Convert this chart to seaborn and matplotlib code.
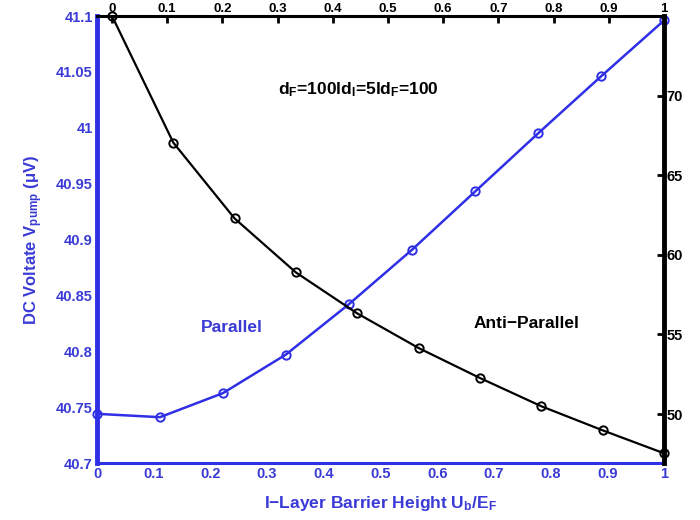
import matplotlib
matplotlib.use("Agg")
import matplotlib.pyplot as plt
import seaborn as sns
import numpy as np
import pandas as pd

# Data
barrier = [0, 0.111, 0.222, 0.333, 0.444, 0.556, 0.667, 0.778, 0.889, 1.0]
parallel_v = [40.744, 40.741, 40.7625, 40.797, 40.842, 40.891, 40.943, 40.995, 41.046, 41.096]
antiparallel_v = [75.0, 67.05, 62.29, 58.9, 56.33, 54.14, 52.26, 50.49, 48.98, 47.54]
left_ticks = [40.7, 40.75, 40.8, 40.85, 40.9, 40.95, 41, 41.05, 41.1]
left_ticklabels = ["40.7", "40.75", "40.8", "40.85", "40.9", "40.95", "41", "41.05", "41.1"]
right_ticks = [50, 55, 60, 65, 70]
x_ticks = [0, 0.1, 0.2, 0.3, 0.4, 0.5, 0.6, 0.7, 0.8, 0.9, 1]
x_ticklabels = ["0", "0.1", "0.2", "0.3", "0.4", "0.5", "0.6", "0.7", "0.8", "0.9", "1"]

sns.set_theme(style="white")
plt.rcParams['font.family'] = ['Liberation Sans', 'DejaVu Sans']
plt.rcParams['font.weight'] = 'bold'
plt.rcParams['mathtext.fontset'] = 'custom'
plt.rcParams['mathtext.rm'] = 'Liberation Sans:bold'
plt.rcParams['mathtext.it'] = 'Liberation Sans:bold'
plt.rcParams['mathtext.bf'] = 'Liberation Sans:bold'
plt.rcParams['mathtext.default'] = 'rm'

BLUE = "#2f2fe6"
BLUE_TXT = "#3a3ad6"

fig = plt.figure(figsize=(7.0, 5.2), dpi=100)
ax = fig.add_axes([97/700, 1 - 463/520, (664-97)/700, (463-16)/520])
ax2 = fig.add_axes(ax.get_position(), frameon=True)
ax2.patch.set_visible(False)

df_p = pd.DataFrame({"x": barrier, "y": parallel_v})
df_a = pd.DataFrame({"x": barrier, "y": antiparallel_v})

sns.lineplot(data=df_p, x="x", y="y", ax=ax, color=BLUE, linewidth=1.8,
             marker="o", markersize=6, markerfacecolor="none",
             markeredgecolor=BLUE, markeredgewidth=1.4, clip_on=False)
sns.lineplot(data=df_a, x="x", y="y", ax=ax2, color="black", linewidth=1.6,
             marker="o", markersize=6, markerfacecolor="none",
             markeredgecolor="black", markeredgewidth=1.4, clip_on=False)

# Bottom/left axis
ax.set_xlim(0, 1)
ax.set_ylim(40.7, 41.1)
ax.set_xticks(x_ticks)
ax.set_xticklabels(x_ticklabels)
ax.set_yticks(left_ticks)
ax.set_yticklabels(left_ticklabels)
ax.tick_params(axis='both', direction='in', length=5, width=2, color=BLUE,
               labelcolor=BLUE_TXT, labelsize=10.5, pad=3)
for lab in ax.get_xticklabels() + ax.get_yticklabels():
    lab.set_fontweight('bold')
for s in ['top', 'right']:
    ax.spines[s].set_visible(False)
ax.spines['left'].set_color(BLUE)
ax.spines['left'].set_linewidth(3.5)
ax.spines['bottom'].set_color(BLUE)
ax.spines['bottom'].set_linewidth(2.2)
ax.set_xlabel(r"I$-$Layer Barrier Height U$_b$/E$_F$", color=BLUE_TXT,
              fontsize=12.5, fontweight='bold', labelpad=9)
ax.set_ylabel(r"DC Voltate V$_{pump}$ ($\mu$V)", color=BLUE_TXT,
              fontsize=12, fontweight='bold', labelpad=8)

# Top/right axis
ax2.set_xlim(-0.0272, 1)
ax2.set_ylim(46.93, 75.0)
ax2.xaxis.tick_top()
ax2.yaxis.tick_right()
ax2.set_xticks(x_ticks)
ax2.set_xticklabels(x_ticklabels)
ax2.set_yticks(right_ticks)
ax2.set_yticklabels([str(t) for t in right_ticks])
ax2.tick_params(axis='y', direction='in', length=5, width=2, color='black',
                labelcolor='black', labelsize=10.5, pad=2)
ax2.tick_params(axis='x', direction='in', length=5, width=2, color='black',
                labelcolor='black', labelsize=9.5, pad=0.5)
for lab in ax2.get_xticklabels() + ax2.get_yticklabels():
    lab.set_fontweight('bold')
ax2.set_xlabel("")
ax2.set_ylabel("")
for s in ['left', 'bottom']:
    ax2.spines[s].set_visible(False)
ax2.spines['top'].set_color('black')
ax2.spines['top'].set_linewidth(2.2)
ax2.spines['right'].set_color('black')
ax2.spines['right'].set_linewidth(3.5)

# Annotations
fig.text(358/700, 1 - 90/520, r"d$_F$=100ld$_I$=5ld$_F$=100", ha='center', va='center',
         fontsize=12.5, fontweight='bold', color='black')
fig.text(232/700, 1 - 327/520, "Parallel", ha='center', va='center',
         fontsize=12.5, fontweight='bold', color=BLUE_TXT)
fig.text(526/700, 1 - 323/520, "Anti\u2212Parallel", ha='center', va='center',
         fontsize=12.5, fontweight='bold', color='black')

fig.savefig("out.png", dpi=100)
